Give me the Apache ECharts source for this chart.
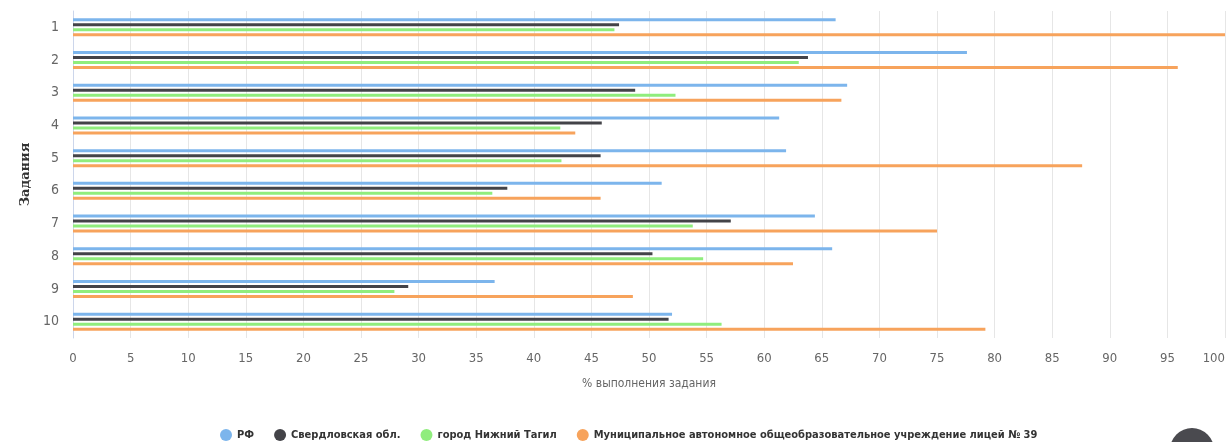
<!DOCTYPE html>
<html>
<head>
<meta charset="utf-8">
<script src="https://cdn.jsdelivr.net/npm/echarts@6/dist/echarts.min.js"></script>
<style>
  html, body { margin: 0; padding: 0; background: #fff; }
  #chart { width: 1227px; height: 442px; }
</style>
</head>
<body>
<div id="chart"></div>
<script>
// задания 1..10
const tasks = ["1", "2", "3", "4", "5", "6", "7", "8", "9", "10"];
const xTicks = [0, 5, 10, 15, 20, 25, 30, 35, 40, 45, 50, 55, 60, 65, 70, 75, 80, 85, 90, 95, 100];

const rf = [66.2, 77.6, 67.2, 61.3, 61.9, 51.1, 64.4, 65.9, 36.6, 52.0];
const sverdl = [47.4, 63.8, 48.8, 45.9, 45.8, 37.7, 57.1, 50.3, 29.1, 51.7];
const tagil = [47.0, 63.0, 52.3, 42.3, 42.4, 36.4, 53.8, 54.7, 27.9, 56.3];
const licey = [100, 95.9, 66.7, 43.6, 87.6, 45.8, 75.0, 62.5, 48.6, 79.2];

const seriesNames = [
  "РФ",
  "Свердловская обл.",
  "город Нижний Тагил",
  "Муниципальное автономное общеобразовательное учреждение лицей № 39"
];
const colors = ["#7cb5ec", "#434348", "#90ed7d", "#f7a35c"];
const font = "'DejaVu Sans Condensed', 'Liberation Sans Narrow', sans-serif";

const chart = echarts.init(document.getElementById("chart"));

const makeSeries = (name, data, i) => ({
  name: name,
  type: "bar",
  data: data,
  barWidth: 3,
  barGap: "67%",
  barCategoryGap: "45%",
  itemStyle: { color: colors[i] },
  emphasis: { disabled: true }
});

const option = {
  animation: false,
  color: colors,
  grid: { left: 73, right: 2, top: 11, bottom: 104, containLabel: false, outerBoundsMode: "none" },
  legend: {
    top: 424,
    left: 215,
    icon: "circle",
    itemWidth: 12,
    itemHeight: 12,
    itemGap: 20,
    textStyle: { color: "#333", fontSize: 11, fontWeight: "bold", fontFamily: font },
    data: seriesNames
  },
  xAxis: {
    type: "value",
    min: xTicks[0],
    max: xTicks[xTicks.length - 1],
    interval: 5,
    name: "% выполнения задания",
    nameLocation: "middle",
    nameGap: 40,
    nameTextStyle: { color: "#666", fontSize: 12, fontFamily: font },
    axisLine: { show: false },
    axisTick: { show: false },
    axisLabel: { color: "#666", fontSize: 13, fontFamily: font, margin: 14, alignMaxLabel: "right" },
    splitLine: { show: true, lineStyle: { color: "#e6e6e6", width: 1 } }
  },
  yAxis: {
    type: "category",
    inverse: true,
    data: tasks,
    name: "Задания",
    nameLocation: "middle",
    nameRotate: 90,
    nameGap: 41,
    nameMoveOverlap: false,
    nameTextStyle: { color: "#333", fontSize: 13, fontWeight: "bold", fontFamily: "'DejaVu Serif', serif" },
    axisLine: { show: true, lineStyle: { color: "#ccd6eb" } },
    axisTick: { show: false },
    axisLabel: { color: "#666", fontSize: 14, fontFamily: font, margin: 14 },
    splitLine: { show: false }
  },
  series: [
    makeSeries(seriesNames[0], rf, 0),
    makeSeries(seriesNames[1], sverdl, 1),
    makeSeries(seriesNames[2], tagil, 2),
    makeSeries(seriesNames[3], licey, 3)
  ],
  graphic: [
    {
      type: "circle",
      shape: { cx: 1192, cy: 450, r: 22 },
      style: { fill: "#4a4a4f" },
      silent: true
    }
  ]
};

chart.setOption(option);
</script>
</body>
</html>
